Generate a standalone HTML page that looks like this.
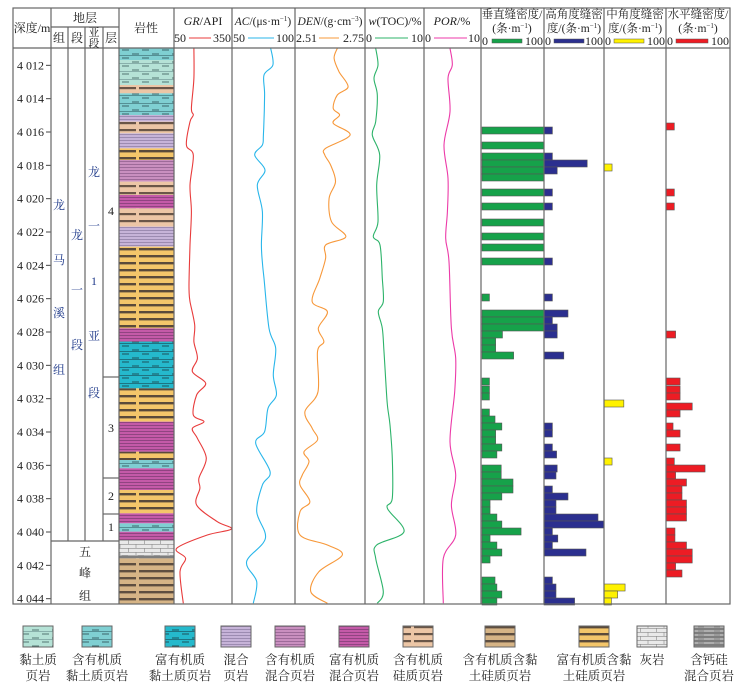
<!DOCTYPE html>
<html><head><meta charset="utf-8">
<style>
html,body{margin:0;padding:0;background:#fff;}
svg{display:block;font-family:"Liberation Serif","Noto Serif CJK SC",serif;}
</style></head>
<body>
<svg id="chart" width="740" height="688" viewBox="0 0 740 688" xmlns="http://www.w3.org/2000/svg">
<defs>
 <pattern id="p-clayLight" patternUnits="userSpaceOnUse" width="20" height="8"><rect width="20" height="8" fill="#b5e2d6"/><line x1="2" y1="2" x2="9" y2="2" stroke="#3a5a5a" stroke-width="0.8"/><line x1="12" y1="6" x2="19" y2="6" stroke="#3a5a5a" stroke-width="0.8"/><line x1="0" y1="7.6" x2="20" y2="7.6" stroke="#5a8080" stroke-width="0.5"/></pattern>
 <pattern id="p-clayOrg" patternUnits="userSpaceOnUse" width="20" height="8"><rect width="20" height="8" fill="#7fcfd2"/><line x1="2" y1="2" x2="9" y2="2" stroke="#2a4a50" stroke-width="0.8"/><line x1="12" y1="6" x2="19" y2="6" stroke="#2a4a50" stroke-width="0.8"/><line x1="0" y1="7.6" x2="20" y2="7.6" stroke="#3a6a70" stroke-width="0.6"/></pattern>
 <pattern id="p-clayRich" patternUnits="userSpaceOnUse" width="20" height="8"><rect width="20" height="8" fill="#25b9cc"/><line x1="2" y1="2" x2="9" y2="2" stroke="#1a3a40" stroke-width="0.8"/><line x1="12" y1="6" x2="19" y2="6" stroke="#1a3a40" stroke-width="0.8"/><line x1="0" y1="7.6" x2="20" y2="7.6" stroke="#1a4a55" stroke-width="0.6"/></pattern>
 <pattern id="p-mix" patternUnits="userSpaceOnUse" width="10" height="3"><rect width="10" height="3" fill="#c6b3d8"/><line x1="0" y1="2.5" x2="10" y2="2.5" stroke="#8a7aa0" stroke-width="0.7"/></pattern>
 <pattern id="p-mixOrg" patternUnits="userSpaceOnUse" width="10" height="3"><rect width="10" height="3" fill="#c98fbf"/><line x1="0" y1="2.5" x2="10" y2="2.5" stroke="#8a5a88" stroke-width="0.7"/></pattern>
 <pattern id="p-mixRich" patternUnits="userSpaceOnUse" width="10" height="3"><rect width="10" height="3" fill="#c45aa8"/><line x1="0" y1="2.5" x2="10" y2="2.5" stroke="#7a3a70" stroke-width="0.7"/></pattern>
 <pattern id="p-silOrg" patternUnits="userSpaceOnUse" width="55" height="7"><rect width="55" height="7" fill="#ecc6a6"/><rect x="0" y="3" width="26" height="2.2" fill="#6a5648"/><rect x="29" y="3" width="26" height="2.2" fill="#6a5648"/></pattern>
 <pattern id="p-sctOrg" patternUnits="userSpaceOnUse" width="55" height="7"><rect width="55" height="7" fill="#d6b486"/><rect x="0" y="3" width="26" height="2.4" fill="#5e4e40"/><rect x="29" y="3" width="26" height="2.4" fill="#5e4e40"/></pattern>
 <pattern id="p-sctRich" patternUnits="userSpaceOnUse" width="55" height="7"><rect width="55" height="7" fill="#f4c66a"/><rect x="0" y="3" width="26" height="2.4" fill="#5a4a3a"/><rect x="29" y="3" width="26" height="2.4" fill="#5a4a3a"/></pattern>
 <pattern id="p-lime" patternUnits="userSpaceOnUse" width="16" height="8"><rect width="16" height="8" fill="#e9e9e9"/><line x1="0" y1="0.3" x2="16" y2="0.3" stroke="#888" stroke-width="0.6"/><line x1="0" y1="4.3" x2="16" y2="4.3" stroke="#888" stroke-width="0.6"/><line x1="8" y1="0" x2="8" y2="4" stroke="#888" stroke-width="0.6"/><line x1="0.3" y1="4" x2="0.3" y2="8" stroke="#888" stroke-width="0.6"/></pattern>
 <pattern id="p-calc" patternUnits="userSpaceOnUse" width="16" height="4"><rect width="16" height="4" fill="#9a9a9a"/><line x1="0" y1="1" x2="16" y2="1" stroke="#555" stroke-width="0.8"/><line x1="0" y1="3" x2="10" y2="3" stroke="#ddd" stroke-width="0.6"/></pattern>
</defs>
<g id="body"></g>
<g id="frame" fill="none" stroke="#666" stroke-width="1.2">
 <rect x="13" y="8" width="717" height="596"/>
 <line x1="13" y1="48" x2="730" y2="48"/>
 <line x1="51" y1="8" x2="51" y2="604"/>
 <line x1="51" y1="27" x2="119" y2="27"/>
 <line x1="68" y1="27" x2="68" y2="541"/>
 <line x1="85" y1="27" x2="85" y2="541"/>
 <line x1="103" y1="27" x2="103" y2="541"/>
 <line x1="51" y1="541" x2="119" y2="541"/>
 <line x1="103" y1="377" x2="119" y2="377"/>
 <line x1="103" y1="478" x2="119" y2="478"/>
 <line x1="103" y1="514" x2="119" y2="514"/>
 <line x1="119" y1="8" x2="119" y2="604"/>
 <line x1="174" y1="8" x2="174" y2="604"/>
 <line x1="232" y1="8" x2="232" y2="604"/>
 <line x1="295" y1="8" x2="295" y2="604"/>
 <line x1="365" y1="8" x2="365" y2="604"/>
 <line x1="424" y1="8" x2="424" y2="604"/>
 <line x1="481" y1="8" x2="481" y2="604"/>
 <line x1="544" y1="8" x2="544" y2="604"/>
 <line x1="604" y1="8" x2="604" y2="604"/>
 <line x1="666" y1="8" x2="666" y2="604"/>
</g>
<g id="header" font-size="12" fill="#222" text-anchor="middle">
 <text x="32" y="32">深度/m</text>
 <text x="85" y="22">地层</text>
 <text x="59" y="42">组</text>
 <text x="77" y="42">段</text>
 <text x="94" y="36" font-size="11">亚</text>
 <text x="94" y="47" font-size="11">段</text>
 <text x="111" y="42">层</text>
 <text x="146" y="32">岩性</text>
 <text x="203" y="25"><tspan font-style="italic">GR</tspan>/API</text>
 <text x="174" y="42" text-anchor="start">50</text>
 <line x1="189" y1="38" x2="211" y2="38" stroke="#e83b3b"/>
 <text x="231" y="42" text-anchor="end">350</text>
 <text x="263" y="25" font-size="11.5"><tspan font-style="italic">AC</tspan>/(μs·m<tspan font-size="7" dy="-4">−1</tspan><tspan dy="4">)</tspan></text>
 <text x="233" y="42" text-anchor="start">50</text>
 <line x1="248" y1="38" x2="274" y2="38" stroke="#29b6ea"/>
 <text x="294" y="42" text-anchor="end">100</text>
 <text x="330" y="25" font-size="11.5"><tspan font-style="italic">DEN</tspan>/(g·cm<tspan font-size="7" dy="-4">−3</tspan><tspan dy="4">)</tspan></text>
 <text x="296" y="42" text-anchor="start">2.51</text>
 <line x1="319" y1="38" x2="339" y2="38" stroke="#f7983a"/>
 <text x="364" y="42" text-anchor="end">2.75</text>
 <text x="395" y="25"><tspan font-style="italic">w</tspan>(TOC)/%</text>
 <text x="366" y="42" text-anchor="start">0</text>
 <line x1="375" y1="38" x2="408" y2="38" stroke="#2db36a"/>
 <text x="423" y="42" text-anchor="end">10</text>
 <text x="452" y="25"><tspan font-style="italic">POR</tspan>/%</text>
 <text x="425" y="42" text-anchor="start">0</text>
 <line x1="434" y1="38" x2="467" y2="38" stroke="#ec3aa8"/>
 <text x="480" y="42" text-anchor="end">10</text>
 <g font-size="11.5">
 <text x="512" y="18">垂直缝密度/</text>
 <text x="512" y="32">(条·m<tspan font-size="7" dy="-4">−1</tspan><tspan dy="4">)</tspan></text>
 <text x="574" y="18">高角度缝密</text>
 <text x="574" y="32">度/(条·m<tspan font-size="7" dy="-4">−1</tspan><tspan dy="4">)</tspan></text>
 <text x="635" y="18">中角度缝密</text>
 <text x="635" y="32">度/(条·m<tspan font-size="7" dy="-4">−1</tspan><tspan dy="4">)</tspan></text>
 <text x="698" y="18">水平缝密度/</text>
 <text x="698" y="32">(条·m<tspan font-size="7" dy="-4">−1</tspan><tspan dy="4">)</tspan></text>
 </g>
 <text x="482" y="45" text-anchor="start">0</text>
 <rect x="492" y="39" width="30" height="4" fill="#16a24a" stroke="#555" stroke-width="0.5"/>
 <text x="543" y="45" text-anchor="end">100</text>
 <text x="545" y="45" text-anchor="start">0</text>
 <rect x="554" y="39" width="30" height="4" fill="#2b2f8f" stroke="#555" stroke-width="0.5"/>
 <text x="603" y="45" text-anchor="end">100</text>
 <text x="605" y="45" text-anchor="start">0</text>
 <rect x="614" y="39" width="30" height="4" fill="#fff200" stroke="#555" stroke-width="0.5"/>
 <text x="665" y="45" text-anchor="end">100</text>
 <text x="667" y="45" text-anchor="start">0</text>
 <rect x="676" y="39" width="32" height="4" fill="#ed1c24" stroke="#555" stroke-width="0.5"/>
 <text x="729" y="45" text-anchor="end">100</text>
</g>
<g id="strata" font-size="12" fill="#1f3a8a" text-anchor="middle">
 <text x="59" y="209">龙</text>
 <text x="59" y="264">马</text>
 <text x="59" y="317">溪</text>
 <text x="59" y="374">组</text>
 <text x="77" y="239">龙</text>
 <text x="77" y="294">一</text>
 <text x="77" y="349">段</text>
 <text x="94" y="176">龙</text>
 <text x="94" y="230">一</text>
 <text x="94" y="285">1</text>
 <text x="94" y="340">亚</text>
 <text x="94" y="397">段</text>
 <g fill="#222">
 <text x="111" y="215">4</text>
 <text x="111" y="432">3</text>
 <text x="111" y="500">2</text>
 <text x="111" y="531">1</text>
 <text x="85" y="556">五</text>
 <text x="85" y="577">峰</text>
 <text x="85" y="600">组</text>
 </g>
</g>
<g id="legend" font-size="12.5" fill="#222" text-anchor="middle"></g>
<script>
const D0 = 4016, Y0 = 132, PXM = 16.667, TOP = 48, BOT = 604;
const depthTicks = [4012,4014,4016,4018,4020,4022,4024,4026,4028,4030,4032,4034,4036,4038,4040,4042,4044];

const lithTops = [4010.9,4011.68,4013.18,4013.68,4014.98,4015.38,4016.08,4016.98,4017.68,4018.98,4019.78,4020.58,4021.68,4022.88,4027.78,4028.58,4031.38,4033.38,4035.18,4035.68,4036.18,4037.48,4038.88,4039.48,4039.98,4040.48,4041.38,4041.58];
const lithBottoms = [4011.68,4013.18,4013.68,4014.98,4015.38,4016.08,4016.98,4017.68,4018.98,4019.78,4020.58,4021.68,4022.88,4027.78,4028.58,4031.38,4033.38,4035.18,4035.68,4036.18,4037.48,4038.88,4039.48,4039.98,4040.48,4041.38,4041.58,4044.4];
const lithTypes = ['clayOrg','clayLight','silOrg','clayOrg','mix','silOrg','mix','sctRich','mixOrg','silOrg','mixRich','silOrg','mix','sctRich','mixRich','clayRich','sctRich','mixRich','sctRich','clayOrg','mixRich','sctRich','mixRich','clayOrg','mixRich','lime','calc','sctOrg'];

const grDepth = [4010.98,4012.78,4014.58,4014.98,4015.38,4016.78,4017.38,4019.18,4020.78,4022.78,4024.78,4025.58,4026.18,4027.58,4028.58,4029.58,4030.38,4031.08,4031.78,4032.98,4033.38,4033.78,4034.38,4035.58,4036.78,4037.38,4038.38,4039.38,4039.82,4040.18,4040.98,4041.58,4042.38,4044.28];
const grValue = [153,153,140,150,133,114,150,133,140,133,128,128,133,157,153,171,145,214,167,150,205,145,171,217,179,184,167,274,347,222,64,110,81,98];
const acDepth = [4010.98,4011.98,4012.58,4013.78,4016.18,4016.78,4017.38,4018.28,4019.18,4020.78,4022.78,4023.98,4024.78,4027.78,4028.98,4030.58,4031.78,4032.58,4033.98,4034.68,4036.38,4037.18,4038.78,4040.38,4041.78,4042.98,4044.28];
const acValue = [80.7,82.5,75.4,75.9,74.9,74.1,68,76.2,70.1,74.1,73.3,74.3,75.4,79.4,84.7,82.8,85.2,78.6,75.9,68.8,80.2,74.1,69.6,76.5,61.6,69.6,66.9];
const denDepth = [4010.98,4011.58,4012.38,4013.28,4013.78,4014.58,4014.98,4015.48,4016.18,4016.98,4017.38,4017.98,4018.98,4019.98,4021.38,4022.28,4022.78,4023.58,4024.78,4026.18,4026.78,4027.78,4028.58,4029.18,4031.58,4032.78,4033.78,4034.48,4035.18,4035.78,4036.58,4037.18,4038.18,4038.78,4040.18,4040.78,4041.38,4042.38,4043.58,4044.28];
const denValue = [2.655,2.644,2.661,2.692,2.655,2.641,2.663,2.641,2.699,2.615,2.612,2.632,2.649,2.627,2.635,2.684,2.615,2.615,2.595,2.569,2.621,2.590,2.609,2.587,2.589,2.544,2.569,2.587,2.541,2.558,2.535,2.527,2.561,2.527,2.527,2.621,2.672,2.592,2.564,2.621];
const tocDepth = [4010.98,4011.98,4012.78,4013.78,4015.38,4016.18,4017.38,4019.18,4021.38,4022.28,4022.78,4024.78,4026.18,4026.78,4027.78,4029.18,4030.78,4032.38,4033.58,4035.58,4037.98,4038.58,4039.98,4040.78,4041.58,4043.58,4044.28];
const tocValue = [1.81,2.20,1.53,2.09,1.81,1.24,2.49,1.98,2.20,1.41,2.54,2.94,3.11,2.26,2.94,3.22,3.50,3.79,4.24,4.63,4.63,3.79,6.61,1.98,1.81,3.11,2.09];
const porDepth = [4010.98,4011.98,4012.78,4014.78,4016.78,4018.78,4020.78,4022.38,4023.78,4027.78,4029.58,4031.58,4034.58,4036.58,4038.38,4040.18,4041.58,4044.28];
const porValue = [4.56,4.97,4.21,4.56,3.51,4.21,4.10,3.80,4.39,4.80,5.56,5.38,4.56,5.56,4.80,5.56,3.39,3.39];

const vertDepth = [4015.70,4016.60,4017.26,4017.68,4018.10,4018.52,4019.42,4020.26,4021.22,4022.06,4022.72,4023.56,4025.72,4026.68,4027.10,4027.52,4027.94,4028.36,4028.78,4029.20,4030.76,4031.24,4031.66,4032.62,4033.04,4033.46,4033.88,4034.30,4034.72,4035.14,4035.98,4036.40,4036.82,4037.24,4037.66,4038.08,4038.50,4038.92,4039.34,4039.76,4040.18,4040.60,4041.02,4041.44,4042.70,4043.12,4043.54,4043.96];
const vertValue = [100,100,100,100,100,100,100,100,100,100,100,100,12,100,100,100,33,22,22,51,12,12,12,12,21,32,22,22,32,24,31,31,50,50,32,13,13,24,32,63,13,24,32,13,21,24,32,24];
const highDepth = [4015.70,4017.26,4017.68,4018.10,4019.42,4020.26,4023.56,4025.72,4026.68,4027.10,4027.52,4027.94,4029.20,4033.46,4033.88,4034.72,4035.14,4035.98,4036.40,4037.24,4037.66,4038.08,4038.50,4038.92,4039.34,4039.76,4040.18,4040.60,4041.02,4042.70,4043.12,4043.54,4043.96];
const highValue = [14,14,72,22,14,14,14,14,40,14,22,22,33,14,14,14,21,22,20,14,40,20,20,90,100,14,23,14,70,14,20,20,51];
const midDepth = [4017.92,4032.08,4035.56,4043.12,4043.54,4043.96];
const midValue = [13,32,13,34,22,12];
const horDepth = [4015.46,4019.42,4020.26,4027.94,4030.76,4031.24,4031.66,4032.26,4032.68,4033.46,4033.88,4034.72,4035.56,4035.98,4036.40,4036.82,4037.24,4037.66,4038.08,4038.50,4038.92,4039.76,4040.18,4040.60,4041.02,4041.44,4041.86,4042.28];
const horValue = [13,13,13,15,22,22,22,41,22,11,22,22,13,61,15,32,25,25,32,32,32,14,14,32,41,41,15,25];

const legendNames = [['黏土质','页岩'],['含有机质','黏土质页岩'],['富有机质','黏土质页岩'],['混合','页岩'],['含有机质','混合页岩'],['富有机质','混合页岩'],['含有机质','硅质页岩'],['含有机质含黏','土硅质页岩'],['富有机质含黏','土硅质页岩'],['灰岩',''],['含钙硅','混合页岩']];
const legendTypes = ['clayLight','clayOrg','clayRich','mix','mixOrg','mixRich','silOrg','sctOrg','sctRich','lime','calc'];

const NS = 'http://www.w3.org/2000/svg';
const body = document.getElementById('body');
function y(d){ return Y0 + (d - D0) * PXM; }
function cy(d){ return Math.max(TOP, Math.min(BOT, y(d))); }
function mk(tag, attrs, parent){ const e = document.createElementNS(NS, tag); for (const k in attrs) e.setAttribute(k, attrs[k]); (parent||body).appendChild(e); return e; }

// depth axis
depthTicks.forEach(function(d){
  const t = mk('line', {x1:46, x2:51, y1:y(d), y2:y(d), stroke:'#444', 'stroke-width':1});
  
  
  const l = mk('text', {x:44, y:y(d)+4, 'font-size':12, 'text-anchor':'end', fill:'#222'});
  l.textContent = String(d).charAt(0) + ' ' + String(d).slice(1);
  
  
});

// lithology
lithTypes.forEach(function(t, i){
  const y1 = cy(lithTops[i]), y2 = cy(lithBottoms[i]);
  const r = mk('rect', {x:119, y:y1, width:55, height:Math.max(0, y2-y1), fill:'url(#p-'+t+')'});
  
  
});

// curves
function curve(depths, vals, x0, x1, vmin, vmax, color, name){
  const pts = depths.map(function(d, i){ return [x0 + (vals[i]-vmin)/(vmax-vmin)*(x1-x0), cy(d)]; });
  let dstr = 'M' + pts[0][0].toFixed(1) + ',' + pts[0][1].toFixed(1);
  for (let i = 0; i < pts.length - 1; i++) {
    const p0 = pts[Math.max(0,i-1)], p1 = pts[i], p2 = pts[i+1], p3 = pts[Math.min(pts.length-1,i+2)];
    const c1x = p1[0] + (p2[0]-p0[0])/6, c1y = p1[1] + (p2[1]-p0[1])/6;
    const c2x = p2[0] - (p3[0]-p1[0])/6, c2y = p2[1] - (p3[1]-p1[1])/6;
    dstr += ' C' + c1x.toFixed(1) + ',' + c1y.toFixed(1) + ' ' + c2x.toFixed(1) + ',' + c2y.toFixed(1) + ' ' + p2[0].toFixed(1) + ',' + p2[1].toFixed(1);
  }
  const p = mk('path', {d:dstr, fill:'none', stroke:color, 'stroke-width':1.1});
  
  
}
curve(grDepth, grValue, 174, 232, 50, 350, '#e83b3b', 'gr-curve');
curve(acDepth, acValue, 232, 295, 50, 100, '#29b6ea', 'ac-curve');
curve(denDepth, denValue, 295, 365, 2.51, 2.75, '#f7983a', 'den-curve');
curve(tocDepth, tocValue, 365, 424, 0, 10, '#2db36a', 'toc-curve');
curve(porDepth, porValue, 424, 481, 0, 10, '#ec3aa8', 'por-curve');

// bars
function bars(depths, vals, x0, x1, color, name){
  depths.forEach(function(d, i){
    const w = vals[i]/100*(x1-x0);
    const b = mk('rect', {x:x0, y:y(d), width:w, height:7, fill:color, stroke:'#555', 'stroke-width':0.6});
    
    
  });
}
bars(vertDepth, vertValue, 482, 544, '#16a24a', 'vertical-fracture-bar');
bars(highDepth, highValue, 544, 604, '#2b2f8f', 'high-angle-fracture-bar');
bars(midDepth, midValue, 604, 666, '#fff200', 'mid-angle-fracture-bar');
bars(horDepth, horValue, 666, 730, '#ed1c24', 'horizontal-fracture-bar');

// legend
const lg = document.getElementById('legend');
const lgX = [38,97,180,236,290,354,418,500,594,652,709];
legendTypes.forEach(function(t, i){
  const r = mk('rect', {x:lgX[i]-15, y:626, width:30, height:21, fill:'url(#p-'+t+')', stroke:'#666', 'stroke-width':1}, lg);
  
  
  legendNames[i].forEach(function(s, j){
    if (!s) return;
    const tx = mk('text', {x:lgX[i], y:664 + j*16}, lg);
    tx.textContent = s;
    
    
  });
});
</script>
</svg>
</body></html>
